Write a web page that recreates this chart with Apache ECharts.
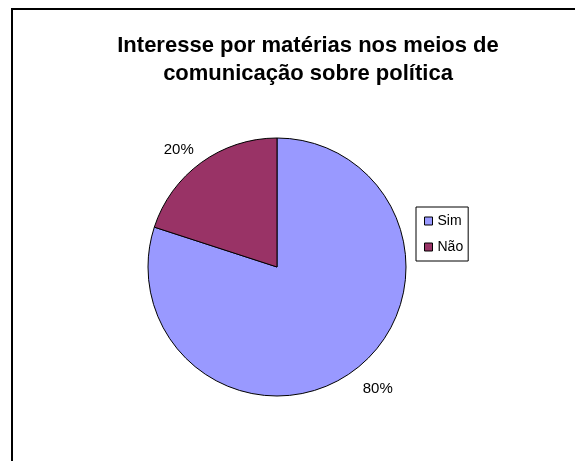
<!DOCTYPE html>
<html>
<head>
<meta charset="utf-8">
<script src="https://cdn.jsdelivr.net/npm/echarts@6/dist/echarts.min.js"></script>
<style>
html,body{margin:0;padding:0;background:#fff;}
#chart{width:575px;height:461px;}
</style>
</head>
<body>
<div id="chart"></div>
<script>
const titleText = "Interesse por matérias nos meios de\ncomunicação sobre política";
const categories = ["Sim", "Não"];
const values = [80, 20];
const colors = ["#9999FF", "#993366"];

const chart = echarts.init(document.getElementById('chart'), null, {renderer: 'canvas'});
const font = "Liberation Sans, Arial, sans-serif";
const lineLens = [[22, -3], [16, -2]];
chart.setOption({
  animation: false,
  backgroundColor: '#fff',
  graphic: [{
    type: 'rect',
    shape: {x: 12, y: 9, width: 700, height: 600},
    style: {fill: 'none', stroke: '#000', lineWidth: 2},
    silent: true
  }],
  title: {
    text: titleText,
    left: 303,
    textAlign: 'center',
    top: 27,
    textStyle: {fontFamily: font, fontSize: 22, fontWeight: 'bold', color: '#000', lineHeight: 28}
  },
  legend: {
    orient: 'vertical',
    left: 416,
    top: 207,
    data: categories,
    itemWidth: 8,
    itemHeight: 8,
    itemGap: 12,
    padding: [7, 5, 7, 8],
    borderColor: '#000',
    borderWidth: 1,
    icon: 'rect',
    itemStyle: {borderColor: '#000', borderWidth: 1},
    textStyle: {fontFamily: font, fontSize: 14, color: '#000'}
  },
  series: [{
    type: 'pie',
    center: [277, 267],
    radius: 129,
    startAngle: 90,
    clockwise: true,
    data: categories.map((c, i) => ({
      name: c, value: values[i],
      itemStyle: {color: colors[i]},
      labelLine: {show: false, length: lineLens[i][0], length2: lineLens[i][1]}
    })),
    itemStyle: {borderColor: '#000', borderWidth: 1},
    label: {
      show: true,
      position: 'outside',
      formatter: p => Math.round(p.percent) + '%',
      fontFamily: font,
      fontSize: 15,
      color: '#000',
      distanceToLabelLine: 0
    },
    labelLine: {show: false},
    emphasis: {disabled: true}
  }]
});
</script>
</body>
</html>
